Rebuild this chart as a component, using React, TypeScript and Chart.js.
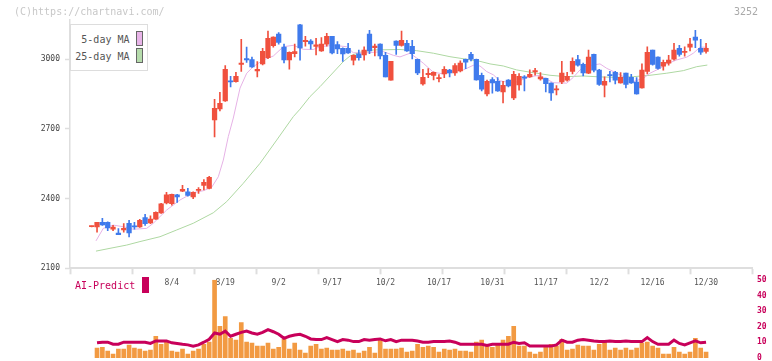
import React, { useEffect, useRef } from 'react';
import { Chart, registerables } from 'chart.js';

Chart.register(...registerables);

// ---------- data (trading-day index 0 = 7/11 ... 115 = 12/30) ----------
const OPEN = [
  2279, 2278, 2298, 2298, 2269, 2252, 2265, 2294, 2282, 2278,
  2318, 2295, 2312, 2338, 2381, 2378, 2416, 2432, 2429, 2407,
  2435, 2457, 2444, 2739, 2786, 2821, 2906, 2903, 2978, 3003,
  2999, 2950, 2980, 3007, 3059, 3108, 3052, 2997, 3024, 3148,
  3076, 3078, 3055, 3036, 3065, 3099, 3063, 3047, 3047, 2996,
  3023, 3019, 3108, 3050, 3065, 3017, 2910, 3078, 3060, 3069,
  3056, 3000, 2894, 2934, 2930, 2916, 2937, 2953, 2941, 2950,
  3000, 3021, 3000, 2931, 2851, 2912, 2905, 2859, 2910, 2833,
  2890, 2921, 2924, 2946, 2915, 2918, 2897, 2868, 2902, 2910,
  2948, 2999, 2978, 2940, 3021, 2953, 2888, 2931, 2944, 2898,
  2940, 2922, 2902, 2877, 2948, 3039, 3009, 2970, 2983, 3000,
  3047, 3029, 3052, 3095, 3047, 3034,
];
const HIGH = [
  2282, 2298, 2315, 2300, 2285, 2271, 2292, 2307, 2298, 2311,
  2332, 2326, 2343, 2380, 2427, 2420, 2418, 2457, 2444, 2429,
  2447, 2482, 2496, 2828, 2858, 2973, 2927, 2944, 3086, 3052,
  3009, 2990, 3047, 3121, 3097, 3115, 3065, 3032, 3065, 3150,
  3099, 3085, 3090, 3093, 3112, 3099, 3076, 3049, 3069, 3019,
  3039, 3053, 3125, 3065, 3066, 3030, 2991, 3079, 3121, 3082,
  3082, 3001, 2957, 2960, 2946, 2934, 2968, 2957, 2981, 2993,
  3001, 3030, 3001, 2940, 2910, 2921, 2921, 2905, 2912, 2948,
  2938, 2930, 2955, 2961, 2943, 2919, 2898, 2887, 2991, 2944,
  3006, 3017, 2984, 3039, 3022, 2957, 2924, 2948, 2948, 2943,
  2941, 2935, 2921, 2980, 3053, 3040, 3010, 2996, 3017, 3069,
  3060, 3053, 3090, 3125, 3086, 3069,
];
const LOW = [
  2278, 2256, 2285, 2262, 2262, 2245, 2256, 2235, 2269, 2276,
  2285, 2292, 2310, 2336, 2377, 2372, 2384, 2430, 2411, 2400,
  2422, 2437, 2442, 2666, 2778, 2819, 2881, 2901, 2948, 2986,
  2965, 2924, 2976, 3003, 3052, 3065, 2984, 2957, 3010, 2996,
  3056, 3043, 3019, 3034, 3056, 3023, 3024, 2991, 3025, 2976,
  2996, 2996, 3024, 3014, 3001, 2924, 2910, 3021, 3056, 3034,
  3001, 2934, 2888, 2921, 2911, 2902, 2921, 2924, 2930, 2945,
  2960, 2993, 2910, 2864, 2842, 2854, 2862, 2812, 2881, 2826,
  2867, 2864, 2922, 2932, 2910, 2859, 2823, 2846, 2895, 2906,
  2937, 2970, 2928, 2938, 2945, 2887, 2838, 2902, 2894, 2897,
  2877, 2896, 2850, 2875, 2937, 2974, 2957, 2953, 2974, 2996,
  3013, 3013, 3036, 3050, 3021, 3026,
];
const CLOSE = [
  2281, 2298, 2287, 2274, 2278, 2245, 2272, 2252, 2278, 2307,
  2292, 2312, 2341, 2378, 2416, 2418, 2407, 2440, 2414, 2427,
  2437, 2470, 2492, 2789, 2810, 2957, 2902, 2927, 2981, 2997,
  2967, 2957, 3034, 3090, 3095, 3073, 2997, 3030, 3033, 3049,
  3079, 3066, 3062, 3065, 3099, 3027, 3044, 3023, 3027, 3017,
  3007, 3039, 3036, 3057, 3014, 2924, 2991, 3060, 3082, 3036,
  3024, 2941, 2922, 2936, 2944, 2918, 2957, 2941, 2973, 2983,
  2987, 3000, 2911, 2871, 2905, 2898, 2864, 2888, 2885, 2935,
  2927, 2919, 2935, 2948, 2924, 2895, 2855, 2870, 2941, 2927,
  2991, 2974, 2941, 3009, 2953, 2892, 2905, 2929, 2910, 2922,
  2892, 2898, 2851, 2953, 3030, 2978, 2961, 2987, 2996, 3039,
  3021, 3031, 3065, 3082, 3030, 3047,
];

const DATE_TICK_POS = [15, 25, 35, 45, 55, 65, 75, 85, 95, 105, 115];
const DATE_TICK_LABELS = ['8/4', '8/19', '9/2', '9/17', '10/2', '10/17', '10/31', '11/17', '12/2', '12/16', '12/30'];
const PRICE_TICKS = [2100, 2400, 2700, 3000];

const MA5_POS = [
  0.8, 2.17, 4.04, 5.92, 7.79, 10.3, 11.53, 14.04, 16.53, 19.02, 20.89, 22.46, 23.7, 24.64, 25.57,
  26.51, 27.77, 29.02, 30.25, 32.12, 34.0, 35.87, 37.74, 39.61, 41.48, 42.74, 45.23, 47.73, 48.97,
  51.48, 54.59, 56.46, 57.71, 59.58, 60.84, 62.07, 63.95, 65.82, 67.69, 69.56, 71.43, 72.69, 73.94,
  75.18, 76.43, 78.92, 82.04, 83.92, 85.17, 86.41, 88.92, 90.15, 91.4, 92.66, 95.15, 96.4, 98.29,
  100.16, 101.4, 103.26, 104.51, 106.38, 107.64, 109.51, 111.38, 112.62, 113.87, 115.24,
];
const MA5_VAL = [
  2218, 2272, 2286, 2279, 2268, 2272, 2294, 2351, 2394, 2426, 2434, 2449, 2494, 2566, 2667,
  2747, 2876, 2940, 2968, 2997, 3014, 3054, 3060, 3043, 3042, 3054, 3060, 3054, 3028,
  3028, 3033, 3017, 3010, 3026, 3005, 2983, 2944, 2937, 2947, 2954, 2974, 2971, 2947,
  2933, 2907, 2897, 2925, 2931, 2914, 2899, 2897, 2922, 2954, 2971, 2980, 2961, 2940,
  2918, 2904, 2918, 2940, 2961, 2980, 2997, 3009, 3026, 3052, 3052,
];
const MA25_POS = [
  0.8, 3.43, 6.55, 9.04, 12.79, 15.91, 19.02, 22.76, 25.27, 28.38, 31.51, 34.63, 37.74, 38.99,
  40.86, 42.74, 47.1, 48.35, 50.22, 52.71, 57.71, 60.84, 63.95, 67.07, 70.2, 72.69, 74.56, 77.05,
  79.56, 82.67, 85.79, 88.92, 92.03, 95.15, 98.28, 101.4, 104.51, 107.64, 110.75, 113.26, 115.24,
];
const MA25_VAL = [
  2174, 2186, 2200, 2215, 2236, 2265, 2294, 2339, 2387, 2466, 2552, 2652, 2753, 2785,
  2839, 2882, 2990, 3014, 3030, 3040, 3042, 3037, 3026, 3011, 3000, 2991, 2980, 2971,
  2954, 2942, 2931, 2925, 2928, 2924, 2922, 2925, 2931, 2940, 2951, 2968, 2975,
];

const VOLUME = [
  null, 6.3, 6.9, 4.4, 2.5, 5.7, 5.7, 8.2, 6.3, 5.7,
  4.4, 5.0, 13.9, 8.8, 10.7, 4.4, 3.8, 5.7, 2.5, 4.4,
  5.7, 8.8, 10.1, 49.8, 20.2, 26.5, 12.6, 11.4, 22.7, 10.1,
  9.5, 7.6, 7.6, 9.5, 5.7, 6.9, 12.0, 5.7, 9.5, 5.0,
  3.2, 7.6, 8.8, 5.7, 6.3, 5.0, 5.0, 5.7, 4.4, 5.0,
  3.2, 4.4, 6.9, 3.2, 11.4, 5.7, 5.7, 5.7, 6.3, 3.8,
  4.4, 8.8, 6.9, 7.6, 6.9, 3.8, 5.7, 5.0, 5.7, 4.4,
  4.4, 3.8, 10.1, 11.4, 8.2, 6.9, 8.2, 11.4, 13.9, 20.2,
  7.6, 7.6, 3.8, 2.5, 3.8, 7.6, 8.8, 7.6, 12.0, 5.0,
  5.7, 8.2, 7.6, 7.6, 5.0, 8.8, 10.1, 5.0, 6.3, 5.0,
  6.3, 5.0, 6.3, 9.5, 10.1, 7.6, 6.3, 2.5, 2.5, 6.9,
  3.8, 2.5, 3.8, 12.6, 6.3, 3.8,
];
const AI_PREDICT = [
  null, 9.7, 10.1, 10.1, 8.8, 8.8, 10.1, 10.1, 10.1, 10.1,
  10.1, 9.3, 10.9, 10.9, 10.9, 9.7, 9.3, 8.8, 8.4, 7.6,
  8.4, 10.1, 12.0, 16.0, 15.2, 17.2, 13.9, 15.2, 16.4, 17.2,
  16.0, 15.2, 16.4, 18.1, 16.8, 15.2, 12.6, 13.9, 14.7, 15.2,
  13.9, 12.2, 11.8, 11.8, 13.1, 11.8, 10.5, 11.8, 11.4, 10.5,
  10.5, 11.8, 11.4, 11.8, 12.2, 11.0, 11.8, 10.5, 11.4, 11.4,
  11.4, 10.9, 10.1, 10.1, 10.5, 10.5, 10.5, 10.9, 10.1, 8.8,
  8.8, 8.8, 8.8, 8.8, 8.0, 8.8, 8.8, 8.8, 8.8, 10.1,
  9.3, 9.7, 7.6, 7.6, 7.6, 7.6, 7.6, 8.4, 11.4, 10.1,
  10.1, 11.4, 11.8, 11.4, 10.9, 10.5, 10.5, 10.9, 10.5, 10.5,
  10.9, 10.5, 10.5, 10.5, 13.1, 10.5, 8.8, 8.8, 8.8, 11.4,
  9.3, 8.4, 9.7, 10.9, 9.7, 10.1,
];
const VOL_TICKS = [0, 10, 20, 30, 40, 50];

// ---------- layout / style ----------
const X_MIN = -4.06;
const X_MAX = 123.6;
const GRID_DIVS = 11;
const FONT = '"DejaVu Sans Mono", "Liberation Mono", monospace';
const RED = '#f0503e';
const BLUE = '#3f7aec';
const PINK = '#e6b2e6';
const GREEN = '#aed8a2';
const ORANGE = '#f29a42';
const CRIMSON = '#c8005a';
const AXIS = '#dedede';

export default function App() {
  const topRef = useRef<HTMLCanvasElement>(null);
  const botRef = useRef<HTMLCanvasElement>(null);

  useEffect(() => {
    const idx = OPEN.map((_, i) => i);
    const colors = idx.map((i) => (CLOSE[i] >= OPEN[i] ? RED : BLUE));
    const gridTicks: number[] = [];
    for (let k = 0; k <= GRID_DIVS; k++) gridTicks.push(X_MIN + (k * (X_MAX - X_MIN)) / GRID_DIVS);

    const top = new Chart(topRef.current as HTMLCanvasElement, {
      type: 'bar',
      data: {
        datasets: [
          {
            type: 'bar',
            label: 'body',
            data: idx.map((i) => ({ x: i, y: [OPEN[i], CLOSE[i]] })) as any,
            backgroundColor: colors,
            barThickness: 4.6,
            minBarLength: 1.2,
            grouped: false,
          } as any,
          {
            type: 'bar',
            label: 'wick',
            data: idx.map((i) => ({ x: i, y: [LOW[i], HIGH[i]] })) as any,
            backgroundColor: colors,
            barThickness: 1,
            grouped: false,
          } as any,
          {
            type: 'line',
            label: '5-day MA',
            data: MA5_POS.map((p, k) => ({ x: p, y: MA5_VAL[k] })),
            borderColor: PINK,
            borderWidth: 1,
            pointRadius: 0,
            tension: 0,
          } as any,
          {
            type: 'line',
            label: '25-day MA',
            data: MA25_POS.map((p, k) => ({ x: p, y: MA25_VAL[k] })),
            borderColor: GREEN,
            borderWidth: 1,
            pointRadius: 0,
            tension: 0,
          } as any,
        ],
      },
      options: {
        animation: false,
        responsive: false,
        maintainAspectRatio: false,
        layout: { padding: { left: 0, right: 20, top: 20, bottom: 0 } },
        plugins: { legend: { display: false }, tooltip: { enabled: false } },
        scales: {
          x: {
            type: 'linear',
            position: 'bottom',
            min: X_MIN,
            max: X_MAX,
            offset: false,
            afterBuildTicks: (s: any) => {
              s.ticks = [...gridTicks, ...DATE_TICK_POS]
                .sort((a, b) => a - b)
                .map((v) => ({ value: v }));
            },
            afterFit: (s: any) => {
              s.height = 31.7;
            },
            ticks: {
              autoSkip: false,
              maxRotation: 0,
              minRotation: 0,
              padding: 4,
              color: '#555',
              font: { family: FONT, size: 8 },
              callback: (v: any) => {
                const k = DATE_TICK_POS.indexOf(v);
                return k >= 0 ? DATE_TICK_LABELS[k] : '';
              },
            },
            grid: {
              drawOnChartArea: false,
              offset: false,
              tickLength: 6,
              tickWidth: 2,
              tickColor: (ctx: any) =>
                ctx.tick && DATE_TICK_POS.includes(ctx.tick.value) ? 'rgba(0,0,0,0)' : AXIS,
            },
            border: { display: true, color: AXIS, width: 2 },
          } as any,
          y: {
            type: 'linear',
            position: 'left',
            min: 2100,
            max: 3169,
            afterBuildTicks: (s: any) => {
              s.ticks = PRICE_TICKS.map((v) => ({ value: v }));
            },
            afterFit: (s: any) => {
              s.width = 70;
            },
            ticks: {
              padding: 5,
              color: '#444',
              font: { family: FONT, size: 8 },
              callback: (v: any) => String(v),
            },
            grid: { drawOnChartArea: false, tickLength: 5, color: AXIS, tickWidth: 1.5 },
            border: { display: true, color: AXIS, width: 1.5 },
          } as any,
        },
      },
    });

    const bot = new Chart(botRef.current as HTMLCanvasElement, {
      type: 'bar',
      data: {
        datasets: [
          {
            type: 'line',
            label: 'AI-Predict',
            data: idx.map((i) => ({ x: i, y: AI_PREDICT[i] })),
            borderColor: CRIMSON,
            borderWidth: 3,
            pointRadius: 0,
            tension: 0,
          } as any,
          {
            type: 'bar',
            label: 'volume',
            data: idx.map((i) => ({ x: i, y: VOLUME[i] })),
            backgroundColor: ORANGE,
            barThickness: 4,
            grouped: false,
          } as any,
        ],
      },
      options: {
        animation: false,
        responsive: false,
        maintainAspectRatio: false,
        layout: { padding: { left: 70, right: 0, top: 8.3, bottom: 22 } },
        plugins: { legend: { display: false }, tooltip: { enabled: false } },
        scales: {
          x: { type: 'linear', min: X_MIN, max: X_MAX, offset: false, display: false, grid: { offset: false } } as any,
          y: {
            type: 'linear',
            position: 'right',
            min: 0,
            max: 50,
            afterBuildTicks: (s: any) => {
              s.ticks = VOL_TICKS.map((v) => ({ value: v }));
            },
            afterFit: (s: any) => {
              s.width = 20;
            },
            ticks: {
              padding: 5,
              color: CRIMSON,
              font: { family: FONT, size: 8, weight: 'bold' },
              callback: (v: any) => String(v),
            },
            grid: { display: false, drawTicks: false },
            border: { display: false },
          } as any,
        },
      },
    });

    return () => {
      top.destroy();
      bot.destroy();
    };
  }, []);

  const abs = (o: React.CSSProperties): React.CSSProperties => ({ position: 'absolute', ...o });

  return (
    <div
      style={{
        position: 'absolute',
        left: 0,
        top: 0,
        width: 772,
        height: 361,
        background: '#fff',
        overflow: 'hidden',
        fontFamily: FONT,
      }}
    >
      <canvas ref={topRef} width={772} height={300} style={abs({ left: 0, top: 0, width: 772, height: 300 })} />
      <canvas ref={botRef} width={772} height={110} style={abs({ left: 0, top: 270, width: 772, height: 110 })} />

      <div style={abs({ left: 14, top: 6, fontSize: 10, lineHeight: '12px', color: '#c8c8c8', whiteSpace: 'pre' })}>
        (C)https://chartnavi.com/
      </div>
      <div style={abs({ left: 734, top: 6, fontSize: 10, lineHeight: '12px', color: '#aaaaaa' })}>3252</div>

      <div
        style={abs({
          left: 70,
          top: 24,
          width: 78,
          height: 47,
          boxSizing: 'border-box',
          border: '1px solid #dddddd',
          background: '#fff',
        })}
      />
      <div style={abs({ left: 70, top: 34, width: 59.5, textAlign: 'right', fontSize: 10, lineHeight: '12px', color: '#555' })}>
        5-day MA
      </div>
      <div
        style={abs({ left: 136, top: 31, width: 7, height: 15, boxSizing: 'border-box', border: '1px solid #666', background: '#e8b4e8' })}
      />
      <div style={abs({ left: 70, top: 51, width: 59.5, textAlign: 'right', fontSize: 10, lineHeight: '12px', color: '#555' })}>
        25-day MA
      </div>
      <div
        style={abs({ left: 136, top: 48, width: 7, height: 15, boxSizing: 'border-box', border: '1px solid #666', background: '#b6dcac' })}
      />

      <div style={abs({ left: 75, top: 280, fontSize: 10, lineHeight: '12px', color: CRIMSON })}>AI-Predict</div>
      <div style={abs({ left: 142, top: 277, width: 7, height: 16, background: CRIMSON })} />
    </div>
  );
}
